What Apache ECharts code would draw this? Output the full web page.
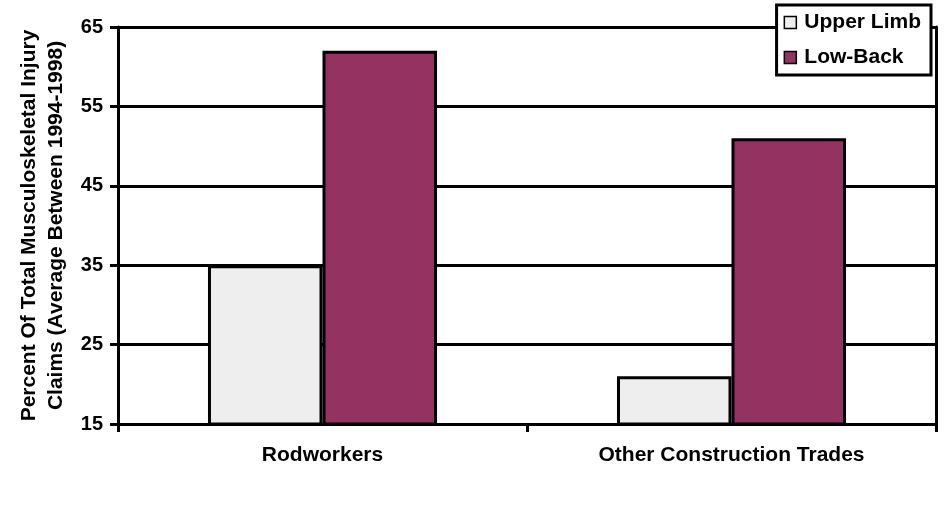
<!DOCTYPE html>
<html><head><meta charset="utf-8">
<script src="https://cdn.jsdelivr.net/npm/echarts@6/dist/echarts.min.js"></script>
<style>html,body{margin:0;padding:0;background:#fff}#c{width:946px;height:512px}</style>
</head><body><div id="c"></div>
<script>
const categories = ['Rodworkers', 'Other Construction Trades'];
const upperLimb = [35, 21];
const lowBack = [62, 51];
const yTicks = [15, 25, 35, 45, 55, 65];
const seriesNames = ['Upper Limb', 'Low-Back'];

const F = 'Liberation Sans, Arial, sans-serif';
const chart = echarts.init(document.getElementById('c'), null, {renderer: 'canvas'});
chart.setOption({
  animation: false,
  backgroundColor: '#fff',
  grid: {left: 118, right: 10, top: 27, bottom: 88, outerBoundsMode: 'none', containLabel: false},
  legend: {
    orient: 'vertical', right: 15, top: 5,
    backgroundColor: '#fff', borderColor: '#000', borderWidth: 3,
    padding: [7, 10, 7, 7], itemGap: 14,
    itemWidth: 12, itemHeight: 12, icon: 'rect',
    itemStyle: {borderColor: '#000', borderWidth: 1.5},
    textStyle: {fontFamily: F, fontWeight: 'bold', fontSize: 21, color: '#000', padding: [0, 0, 0, 3]},
    data: seriesNames
  },
  xAxis: {
    type: 'category', data: categories,
    axisLine: {lineStyle: {color: '#000', width: 3}},
    axisTick: {show: true, length: 8, lineStyle: {color: '#000', width: 3}},
    axisLabel: {fontFamily: F, fontWeight: 'bold', fontSize: 21, color: '#000', margin: 21}
  },
  yAxis: [{
    type: 'value', min: yTicks[0], max: yTicks[yTicks.length - 1], interval: 10,
    name: 'Percent Of Total Musculoskeletal Injury\nClaims (Average Between 1994-1998)',
    nameLocation: 'middle', nameGap: 48,
    nameTextStyle: {fontFamily: F, fontWeight: 'bold', fontSize: 21, color: '#000', lineHeight: 27},
    axisLine: {show: true, lineStyle: {color: '#000', width: 3}},
    axisTick: {show: true, length: 8, lineStyle: {color: '#000', width: 3}},
    axisLabel: {fontFamily: F, fontWeight: 'bold', fontSize: 20, color: '#000', margin: 15},
    splitLine: {show: true, lineStyle: {color: '#000', width: 3}}
  }, {
    type: 'value', min: yTicks[0], max: yTicks[yTicks.length - 1], interval: 10, position: 'right',
    axisLine: {show: true, lineStyle: {color: '#000', width: 3}},
    axisTick: {show: false}, axisLabel: {show: false}, splitLine: {show: false}
  }],
  series: [{
    name: seriesNames[0], type: 'bar', data: upperLimb,
    barGap: '0%', barCategoryGap: '44%',
    itemStyle: {color: '#eeeeee', borderColor: '#000', borderWidth: 3}
  }, {
    name: seriesNames[1], type: 'bar', data: lowBack,
    itemStyle: {color: '#943262', borderColor: '#000', borderWidth: 3}
  }]
});
</script></body></html>
